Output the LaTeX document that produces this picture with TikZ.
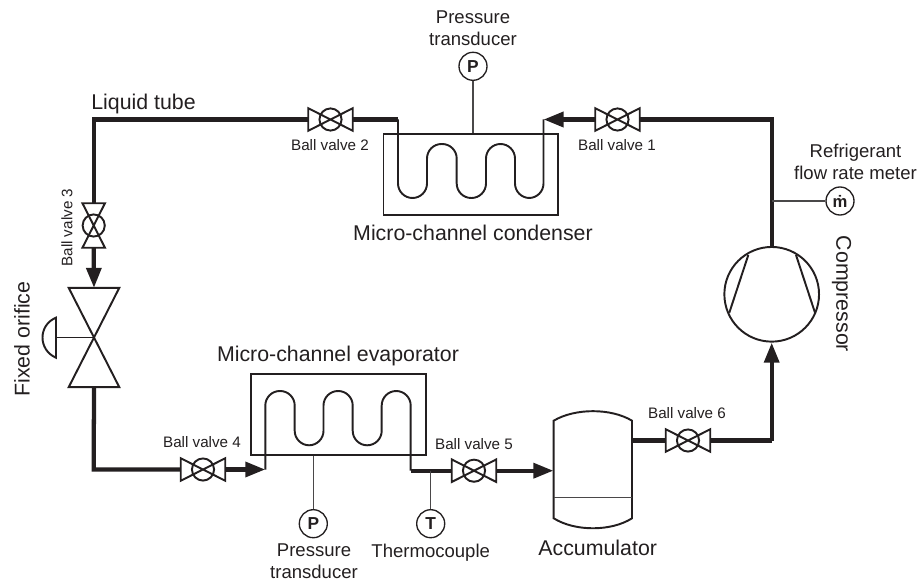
\documentclass[tikz,border=0pt]{standalone}
\usepackage{fontspec}
\setmainfont{Liberation Sans}
\usetikzlibrary{arrows.meta,calc}
\definecolor{ink}{HTML}{231F20}
\definecolor{thinink}{HTML}{4A4849}
\tikzset{
  x=0.75pt,y=-0.75pt,
  pipe/.style={draw=ink,line width=3.2pt},
  pipearrow/.style={pipe,-{Triangle[length=15pt,width=11pt]}},
  tube/.style={draw=ink,line width=1.45pt},
  thinline/.style={draw=thinink,line width=1pt},
  instr/.style={circle,draw=ink,line width=1pt,minimum size=21pt,inner sep=0pt,fill=white,font=\fontsize{13}{13}\selectfont\bfseries,text=ink},
  box/.style={rectangle,draw=ink,line width=1.45pt,inner sep=0pt},
  vbody/.style={rectangle,inner sep=0pt},
  hv/.style={vbody,minimum width=33pt,minimum height=16.5pt},
  vv/.style={vbody,minimum width=16.5pt,minimum height=33pt},
  big/.style={inner sep=0pt,text=ink,font=\fontsize{16}{16}\selectfont},
  mid/.style={inner sep=0pt,text=ink,align=center,font=\fontsize{13.9}{16.5}\selectfont},
  small/.style={inner sep=0pt,text=ink,font=\fontsize{11.4}{12}\selectfont},
}
\newcommand{\hvalve}[1]{%
  \draw[tube] (#1.north west) -- (#1.south east) -- (#1.north east) -- (#1.south west) -- cycle;
  \draw[tube] (#1.center) circle[radius=8.3pt];
}
\newcommand{\vvalve}[1]{%
  \draw[tube] (#1.north west) -- (#1.south east) -- (#1.south west) -- (#1.north east) -- cycle;
  \draw[tube] (#1.center) circle[radius=8.3pt];
}
\begin{document}
\begin{tikzpicture}
\useasboundingbox (0,0) rectangle (917,581);

% equipment bodies
\node[box,minimum width=130.9pt,minimum height=60.5pt] (cond) at (470.75,174.3) {};
\node[box,minimum width=131pt,minimum height=60.5pt] (evap) at (338.35,414.3) {};
\node[circle,draw=ink,line width=1.45pt,minimum size=71pt,inner sep=0pt] (comp) at (771.7,294.3) {};
\node[vbody,minimum width=58.7pt,minimum height=88pt] (acc) at (592.85,469.6) {};

% valves
\node[hv] (v1) at (617.5,119.5) {};
\node[hv] (v2) at (330.5,119.5) {};
\node[vv] (v3) at (93.7,225.5) {};
\node[hv] (v4) at (203,469.5) {};
\node[hv] (v5) at (474,470.7) {};
\node[hv] (v6) at (688,440.5) {};
\hvalve{v1}\hvalve{v2}\vvalve{v3}\hvalve{v4}\hvalve{v5}\hvalve{v6}

% fixed orifice
\node[vbody,minimum width=37.5pt,minimum height=74pt] (fo) at (94,337.5) {};
\draw[tube] (fo.north west) -- (fo.south east) -- (fo.south west) -- (fo.north east) -- cycle;
\coordinate (act) at (56,337.5);
\draw[tube] (act) -- (fo.center);
\draw[tube] (56,317.7) .. controls (38,325) and (38,350) .. (56,357.7) -- cycle;

% instruments
\node[instr] (pc) at (473,66.3) {P};
\node[instr] (pe) at (313.3,523.7) {P};
\node[instr] (te) at (430.7,523.7) {T};
\node[instr,font=\fontsize{12.5}{12.5}\selectfont\bfseries] (fm) at (840,201) {ṁ};

% coils
\coordinate (cin) at (398,119.5);
\coordinate (cout) at (543.5,119.5);
\coordinate (ein) at (265.3,469.5);
\coordinate (eout) at (410.7,470.7);
\draw[tube,rounded corners=10.9pt] (cin) -- (398,198) -- (427,198) -- (427,144) -- (456.7,144) -- (456.7,198) -- (486,198) -- (486,144) -- (515,144) -- (515,198) -- (543.5,198) -- (cout);
\draw[tube,rounded corners=10.9pt] (ein) -- (265.3,391) -- (294.7,391) -- (294.7,445.3) -- (323.5,445.3) -- (323.5,391) -- (352.7,391) -- (352.7,445.3) -- (381.7,445.3) -- (381.7,391) -- (410.7,391) -- (eout);

% accumulator
\draw[tube] (553.7,420.7) .. controls (575,408) and (611,408) .. (632,420.7) -- (632,518.3) .. controls (611,531.6) and (575,531.6) .. (553.7,518.3) -- cycle;
\coordinate (liqL) at (553.7,497.7);
\coordinate (liqR) at (632,497.7);
\draw[thinline] (liqL) -- (liqR);

% compressor vanes
\draw[tube] (748.3,255) -- (729.3,312.7);
\draw[tube] (796,255) -- (815,312.7);

% pipes
\coordinate (tl) at (93.7,119.5);
\coordinate (bl) at (93.7,469.5);
\coordinate (tr) at (771.7,119.5);
\coordinate (br) at (771.7,440.5);
\draw[pipe] (v2.west) -- (tl) -- (v3.north);
\draw[pipe] (v2.east) -- (cin);
\draw[pipearrow] (v1.west) -- (cout);
\draw[pipe] (v1.east) -- (tr) -- (comp.north);
\draw[pipearrow] (v3.south) -- (fo.north);
\draw[pipe] (fo.south) -- (bl) -- (v4.west);
\draw[pipearrow] (v4.east) -- (ein);
\draw[pipe] (eout) -- (v5.west);
\draw[pipearrow] (v5.east) -- (acc.west |- v5.east);
\draw[pipe] (632,440.5) -- (v6.west);
\draw[pipe] (v6.east) -- (br);
\draw[pipearrow] (br) -- (comp.south);

% instrument leads
\draw[thinline] (pc.south) -- (pc.south |- cond.north);
\draw[thinline] (pe.north) -- (pe.north |- evap.south);
\draw[thinline] (te.north) -- (te.north |- eout);
\draw[thinline] (fm.west) -- (fm.west -| tr);

% labels
\node[mid] (lpc) at (473,28.5) {Pressure\\transducer};
\node[mid] (lpe) at (314,561.5) {Pressure\\transducer};
\node[mid] (lte) at (430.7,553) {Thermocouple};
\node[mid] (lfm) at (855.5,162) {Refrigerant\\flow rate meter};
\node[big] (lcond) at (473,233) {Micro-channel condenser};
\node[big] (levap) at (338,356) {Micro-channel evaporator};
\node[big] (lacc) at (597.7,547.7) {Accumulator};
\node[big] (lliq) at (143.5,104) {Liquid tube};
\node[big,rotate=90] (lfo) at (22,339) {Fixed orifice};
\node[big,rotate=-90] (lcomp) at (841.7,294) {Compressor};
\node[small] (b1) at (617,145) {Ball valve 1};
\node[small] (b2) at (330,145) {Ball valve 2};
\node[small,rotate=90] (b3) at (67,227.7) {Ball valve 3};
\node[small] (b4) at (202,442.5) {Ball valve 4};
\node[small] (b5) at (474,444) {Ball valve 5};
\node[small] (b6) at (687,413.5) {Ball valve 6};
\end{tikzpicture}
\end{document}
